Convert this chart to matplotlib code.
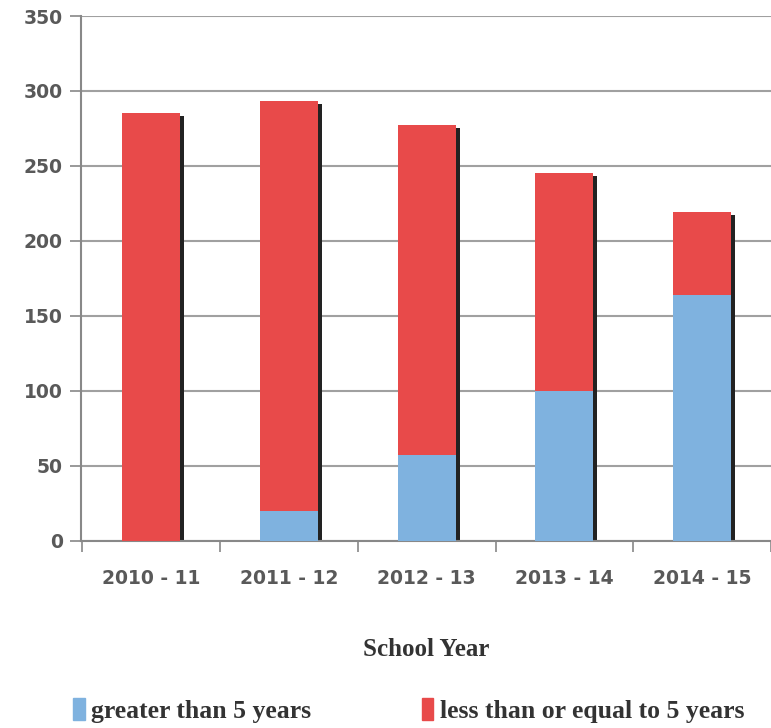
import numpy as np
import matplotlib.pyplot as plt
import matplotlib.transforms as mtransforms
from matplotlib.patches import Patch

# Data
years = ['2010 - 11', '2011 - 12', '2012 - 13', '2013 - 14', '2014 - 15']
greater_5 = [0, 20, 57, 100, 164]
less_eq_5 = [285, 273, 220, 145, 55]

blue = '#7fb2df'
red = '#e84a4a'
grey = '#595959'

fig = plt.figure(figsize=(7.71, 7.28), dpi=100)
ax = fig.add_axes([0.105, 0.257, 0.895, 0.721])

x = np.arange(len(years))
totals = np.array(greater_5) + np.array(less_eq_5)
w = 0.42

# drop shadow behind whole stack
shift = mtransforms.offset_copy(ax.transData, fig=fig, x=3, y=-2, units='points')
ax.bar(x, totals, width=w, color='#222222', zorder=2, transform=shift)
ax.bar(x, greater_5, width=w, color=blue, zorder=3)
ax.bar(x, less_eq_5, bottom=greater_5, width=w, color=red, zorder=3)

ax.set_ylim(0, 350)
ax.set_xlim(-0.51, 4.42)
ax.set_yticks(range(0, 351, 50))
ax.set_xticks(x)
ax.set_xticklabels(years)
ax.set_xticks(np.arange(-0.5, 5, 1), minor=True)
ax.tick_params(axis='x', which='major', length=0, pad=20)
ax.tick_params(axis='x', which='minor', length=8, width=1.2, color='#888888')
ax.tick_params(axis='y', length=8, width=1.2, color='#888888', pad=5)
for lab in ax.get_xticklabels() + ax.get_yticklabels():
    lab.set_fontsize(13.5)
    lab.set_fontweight('bold')
    lab.set_color(grey)
    lab.set_family('DejaVu Sans')

ax.yaxis.grid(True, color='#a0a0a0', linewidth=1.5, zorder=0)
ax.set_axisbelow(True)
for s in ['top', 'right']:
    ax.spines[s].set_visible(False)
for s in ['left', 'bottom']:
    ax.spines[s].set_color('#888888')
    ax.spines[s].set_linewidth(1.5)

ax.set_xlabel('School Year', fontsize=18, fontweight='bold', color='#333333',
              family='Liberation Serif', labelpad=36)

handles = [Patch(color=blue, label='greater than 5 years'),
           Patch(color=red, label='less than or equal to 5 years')]
fig.legend(handles=handles, loc='center', bbox_to_anchor=(0.53, 0.024), ncol=2,
           frameon=False, handlelength=0.45, handleheight=0.9, handletextpad=0.25,
           columnspacing=4.3, labelcolor='#333333',
           prop={'family': 'Liberation Serif', 'weight': 'bold', 'size': 18.5})

fig.savefig('out.png', dpi=100)
